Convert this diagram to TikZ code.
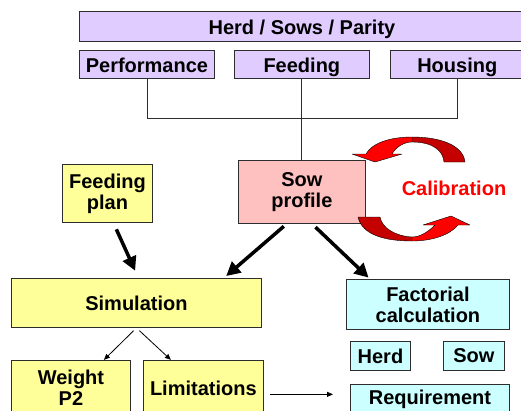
\documentclass[tikz,border=0pt]{standalone}
\usepackage{fontspec}
\setmainfont{Liberation Sans}
\usepackage{tikz}
\usetikzlibrary{positioning,arrows.meta}

\definecolor{lilac}{RGB}{224,204,255}
\definecolor{rosy}{RGB}{255,192,192}
\definecolor{lemon}{RGB}{255,255,153}
\definecolor{aqua}{RGB}{204,255,255}
\definecolor{calred}{RGB}{255,0,0}
\definecolor{caldark}{RGB}{196,0,0}
\definecolor{rim}{RGB}{45,45,45}

\begin{document}
\begin{tikzpicture}
    [ x = 1pt, y = -1pt
    , box/.style =
      { draw = rim, line width = .9pt, inner sep = 0pt, align = center
      , font = \fontsize{20}{21}\selectfont\bfseries }
    , source/.style =
      { box, fill = lilac, minimum height = 28pt, text height = 16pt, text depth = 0pt }
    , profile/.style =
      { box, fill = rosy }
    , model/.style =
      { box, fill = lemon }
    , calc/.style =
      { box, fill = aqua }
    , link/.style =
      { rim, line width = .9pt }
    , bigarrow/.style =
      { line width = 3.5pt, -{Triangle[length=14pt,width=14pt]} }
    , smallarrow/.style =
      { line width = .8pt, -{Triangle[length=6pt,width=5pt]} }
    , ribbon/.style =
      { draw = black, line width = .4pt, line join = round }
    ]
    \useasboundingbox (0,0) rectangle (521,410);

    \node [source, minimum width=445pt, minimum height=30pt, anchor=north west] (hsp) at (79,11) {Herd / Sows / Parity};
    \node [source, minimum width=135pt] (perf) [below right=8pt and 0pt of hsp.south west] {Performance};
    \node [source, minimum width=135pt] (feed) [right=19pt of perf] {Feeding};
    \node [source, minimum width=134pt] (house) [right=20pt of feed] {Housing};

    \node [profile, minimum width=127pt, minimum height=63pt] (sow) [below=81pt of feed] {Sow\\profile};
    \node [model, minimum width=90pt, minimum height=58pt, anchor=north west] (plan) at (62,164) {Feeding\\plan};
    \node [text=calred, inner sep=0pt, font=\fontsize{20}{21}\selectfont\bfseries] (calib) at (454,188) {Calibration};

    \node [model, minimum width=250pt, minimum height=49pt, anchor=north west] (sim) at (11,278) {Simulation};
    \node [model, minimum width=119pt, minimum height=55pt] (weight) [below right=32pt and 0pt of sim.south west] {Weight\\P2};
    \node [model, minimum width=120pt, minimum height=55pt] (limit) [right=12pt of weight] {Limitations};

    \node [calc, minimum width=163pt, minimum height=50pt, anchor=north west] (fact) at (346,279) {Factorial\\calculation};
    \node [calc, minimum width=60pt, minimum height=29pt] (herd) [below right=11pt and 4pt of fact.south west] {Herd};
    \node [calc, minimum width=61pt, minimum height=29pt] (sowreq) [below left=11pt and 5pt of fact.south east] {Sow};
    \node [calc, minimum width=159pt, minimum height=30pt] (req) [below right=13pt and 0pt of herd.south west] {Requirement};

    \draw [link] (perf.south) |- ([yshift=-40pt]feed.south) -| (house.south);
    \draw [link] (feed.south) -- (sow.north);

    \draw [bigarrow, shorten <=7pt, shorten >=8pt] ([xshift=6pt]plan.south) -- ([xshift=2pt]sim.north);
    \draw [bigarrow, shorten <=4pt, shorten >=3pt] ([xshift=-15pt]sow.south) -- ([xshift=-38pt]sim.north east);
    \draw [bigarrow, shorten <=5pt, shorten >=2pt] ([xshift=10pt]sow.south) -- ([xshift=24pt]fact.north west);

    \draw [smallarrow, shorten <=4pt] (sim.south) -- ([xshift=-27pt]weight.north east);
    \draw [smallarrow, shorten <=4pt] (sim.south) -- ([xshift=28pt]limit.north west);
    \draw [smallarrow, shorten <=6pt, shorten >=17pt] ([yshift=-6.5pt]limit.east) -- ([yshift=-6.5pt]limit.east -| req.west);

    % calibration loop, upper half
    \fill [ribbon, fill=caldark] (465,162) .. controls (463,145) and (440,137) .. (412,137)
      -- (412,142) .. controls (432,142) and (443,150) .. (444,162) -- cycle;
    \fill [ribbon, fill=calred] (412,137) .. controls (390,137) and (372,143) .. (366,154)
      -- (352,154) -- (375,162) -- (402,154) -- (392,154)
      .. controls (396,147) and (404,142) .. (412,142) -- cycle;
    % calibration loop, lower half
    \fill [ribbon, fill=caldark] (358,217) .. controls (362,235) and (385,241) .. (412,241)
      -- (412,237) .. controls (395,236) and (382,228) .. (380,217) -- cycle;
    \fill [ribbon, fill=calred] (412,241) .. controls (432,241) and (450,235) .. (458,225)
      -- (470,225) -- (451,216) -- (423,225) -- (435,225)
      .. controls (428,232) and (420,237) .. (412,237) -- cycle;
\end{tikzpicture}
\end{document}
